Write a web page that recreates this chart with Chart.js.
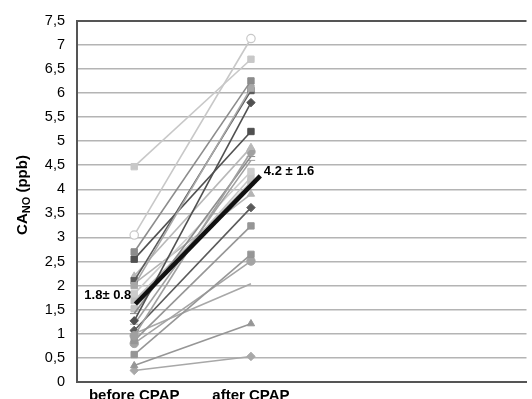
<!DOCTYPE html>
<html>
<head>
<meta charset="utf-8">
<script src="https://cdn.jsdelivr.net/npm/chart.js@4.4.1/dist/chart.umd.min.js"></script>
<style>
  html, body { margin: 0; padding: 0; background: #fff; overflow: hidden; }
  #wrap { width: 532px; height: 408px; }
</style>
</head>
<body>
<div id="wrap"><canvas id="chart" width="532" height="408"></canvas></div>
<script>
// Categories and tick labels
const categories = ['before CPAP', 'after CPAP'];
const yTickValues = [0, 0.5, 1, 1.5, 2, 2.5, 3, 3.5, 4, 4.5, 5, 5.5, 6, 6.5, 7, 7.5];

// Individual patients: CANO before and after CPAP (ppb)
const beforeCPAP = [3.05, 4.47, 2.7, 2.0, 2.1, 1.27, 2.55, 2.2, 0.96, 1.42, 1.2, 1.83, 1.52, 1.69, 2.04, 1.07, 0.86, 0.57, 0.8, 1.0, 0.34, 0.24];
const afterCPAP  = [7.13, 6.7, 6.25, 6.1, 6.05, 5.8, 5.2, 4.87, 4.78, 4.68, 4.6, 4.37, 4.25, 4.15, 3.9, 3.62, 3.24, 2.65, 2.51, 2.04, 1.21, 0.53];

// Group mean (drawn as a thick line, slightly overshooting the after column)
const meanX = [0.01, 1.08];
const meanY = [1.62, 4.28];
const meanLabels = ['1.8\u00b1 0.8', '4.2 \u00b1 1.6'];

// Styles per patient series (colour, marker)
const seriesStyles = [
  { color: '#c8c8c8', marker: 'circle', open: true },
  { color: '#c8c8c8', marker: 'rect' },
  { color: '#8c8c8c', marker: 'rect' },
  { color: '#a8a8a8', marker: 'rect' },
  { color: '#5a5a5a', marker: 'rect' },
  { color: '#505050', marker: 'rectRot' },
  { color: '#505050', marker: 'rect' },
  { color: '#b8b8b8', marker: 'triangle' },
  { color: '#a0a0a0', marker: 'circle' },
  { color: '#8c8c8c', marker: 'line' },
  { color: '#a0a0a0', marker: 'line' },
  { color: '#cccccc', marker: 'rect' },
  { color: '#c4c4c4', marker: 'rect' },
  { color: '#bebebe', marker: 'rect' },
  { color: '#b4b4b4', marker: 'triangle' },
  { color: '#5a5a5a', marker: 'rectRot' },
  { color: '#969696', marker: 'rect' },
  { color: '#969696', marker: 'rect' },
  { color: '#a4a4a4', marker: 'circle' },
  { color: '#a8a8a8', marker: false },
  { color: '#969696', marker: 'triangle' },
  { color: '#a8a8a8', marker: 'rectRot' }
];

const datasets = [];

datasets.push({
  label: 'mean',
  data: meanX.map((x, i) => ({ x: x, y: meanY[i] })),
  borderColor: '#111111',
  borderWidth: 4.5,
  pointRadius: 0,
  borderCapStyle: 'butt'
});

beforeCPAP.forEach((b, i) => {
  const s = seriesStyles[i];
  datasets.push({
    label: 'patient ' + (i + 1),
    data: [{ x: 0, y: b }, { x: 1, y: afterCPAP[i] }],
    borderColor: s.color,
    borderWidth: 1.6,
    pointStyle: s.marker,
    pointRadius: s.marker ? (s.marker === 'rect' ? 4.5 : 4.2) : 0,
    pointBackgroundColor: s.open ? '#ffffff' : s.color,
    pointBorderColor: s.color,
    pointBorderWidth: s.open ? 1.2 : 1
  });
});

const textPlugin = {
  id: 'textPlugin',
  afterDraw(chart) {
    const ctx = chart.ctx;
    const xs = chart.scales.x;
    const ys = chart.scales.y;
    ctx.save();
    ctx.fillStyle = '#000';
    ctx.font = 'bold 13px "Liberation Sans", Arial, sans-serif';
    ctx.textBaseline = 'middle';
    ctx.textAlign = 'right';
    ctx.fillText(meanLabels[0], xs.getPixelForValue(0) - 3, ys.getPixelForValue(1.8));
    ctx.textAlign = 'left';
    ctx.fillText(meanLabels[1], xs.getPixelForValue(1.11), ys.getPixelForValue(4.37));

    // y axis title with subscript
    ctx.translate(22, 195);
    ctx.rotate(-Math.PI / 2);
    ctx.textBaseline = 'alphabetic';
    const big = 'bold 15px "Liberation Sans", Arial, sans-serif';
    const small = 'bold 11px "Liberation Sans", Arial, sans-serif';
    ctx.font = big;
    const w1 = ctx.measureText('CA').width;
    const w3 = ctx.measureText(' (ppb)').width;
    ctx.font = small;
    const w2 = ctx.measureText('NO').width;
    let x = -(w1 + w2 + w3) / 2;
    ctx.textAlign = 'left';
    ctx.font = big;
    ctx.fillText('CA', x, 5);
    x += w1;
    ctx.font = small;
    ctx.fillText('NO', x, 8);
    x += w2;
    ctx.font = big;
    ctx.fillText(' (ppb)', x, 5);
    ctx.restore();
  }
};

new Chart(document.getElementById('chart'), {
  type: 'line',
  data: { datasets: datasets },
  options: {
    responsive: false,
    animation: false,
    layout: { padding: { top: 12, right: 0, left: 0, bottom: 0 } },
    plugins: {
      legend: { display: false },
      tooltip: { enabled: false }
    },
    scales: {
      x: {
        type: 'linear',
        min: -0.49,
        max: 3.36,
        afterBuildTicks: function(scale) {
          scale.ticks = categories.map((c, i) => ({ value: i }));
        },
        afterFit: function(scale) {
          scale.height = 26;
        },
        ticks: {
          callback: function(value) {
            return categories[value] || '';
          },
          color: '#000',
          font: { family: '"Liberation Sans", Arial, sans-serif', size: 15, weight: 'bold' },
          padding: -3,
          maxRotation: 0
        },
        grid: { display: false },
        border: { display: true, color: '#555555', width: 2 }
      },
      y: {
        min: 0,
        max: 7.5,
        afterBuildTicks: function(scale) {
          scale.ticks = yTickValues.map(v => ({ value: v }));
        },
        afterFit: function(scale) {
          scale.width = 77;
        },
        ticks: {
          callback: function(value) {
            return String(value).replace('.', ',');
          },
          color: '#000',
          font: { family: '"Liberation Sans", Arial, sans-serif', size: 14.5 },
          padding: 12
        },
        grid: {
          color: function(c) {
            return c.tick && c.tick.value === 7.5 ? '#555555' : '#b4b4b4';
          },
          lineWidth: function(c) {
            return c.tick && c.tick.value === 7.5 ? 2 : 1.5;
          },
          drawTicks: false
        },
        border: { display: true, color: '#555555', width: 2 }
      }
    }
  },
  plugins: [textPlugin]
});
</script>
</body>
</html>
